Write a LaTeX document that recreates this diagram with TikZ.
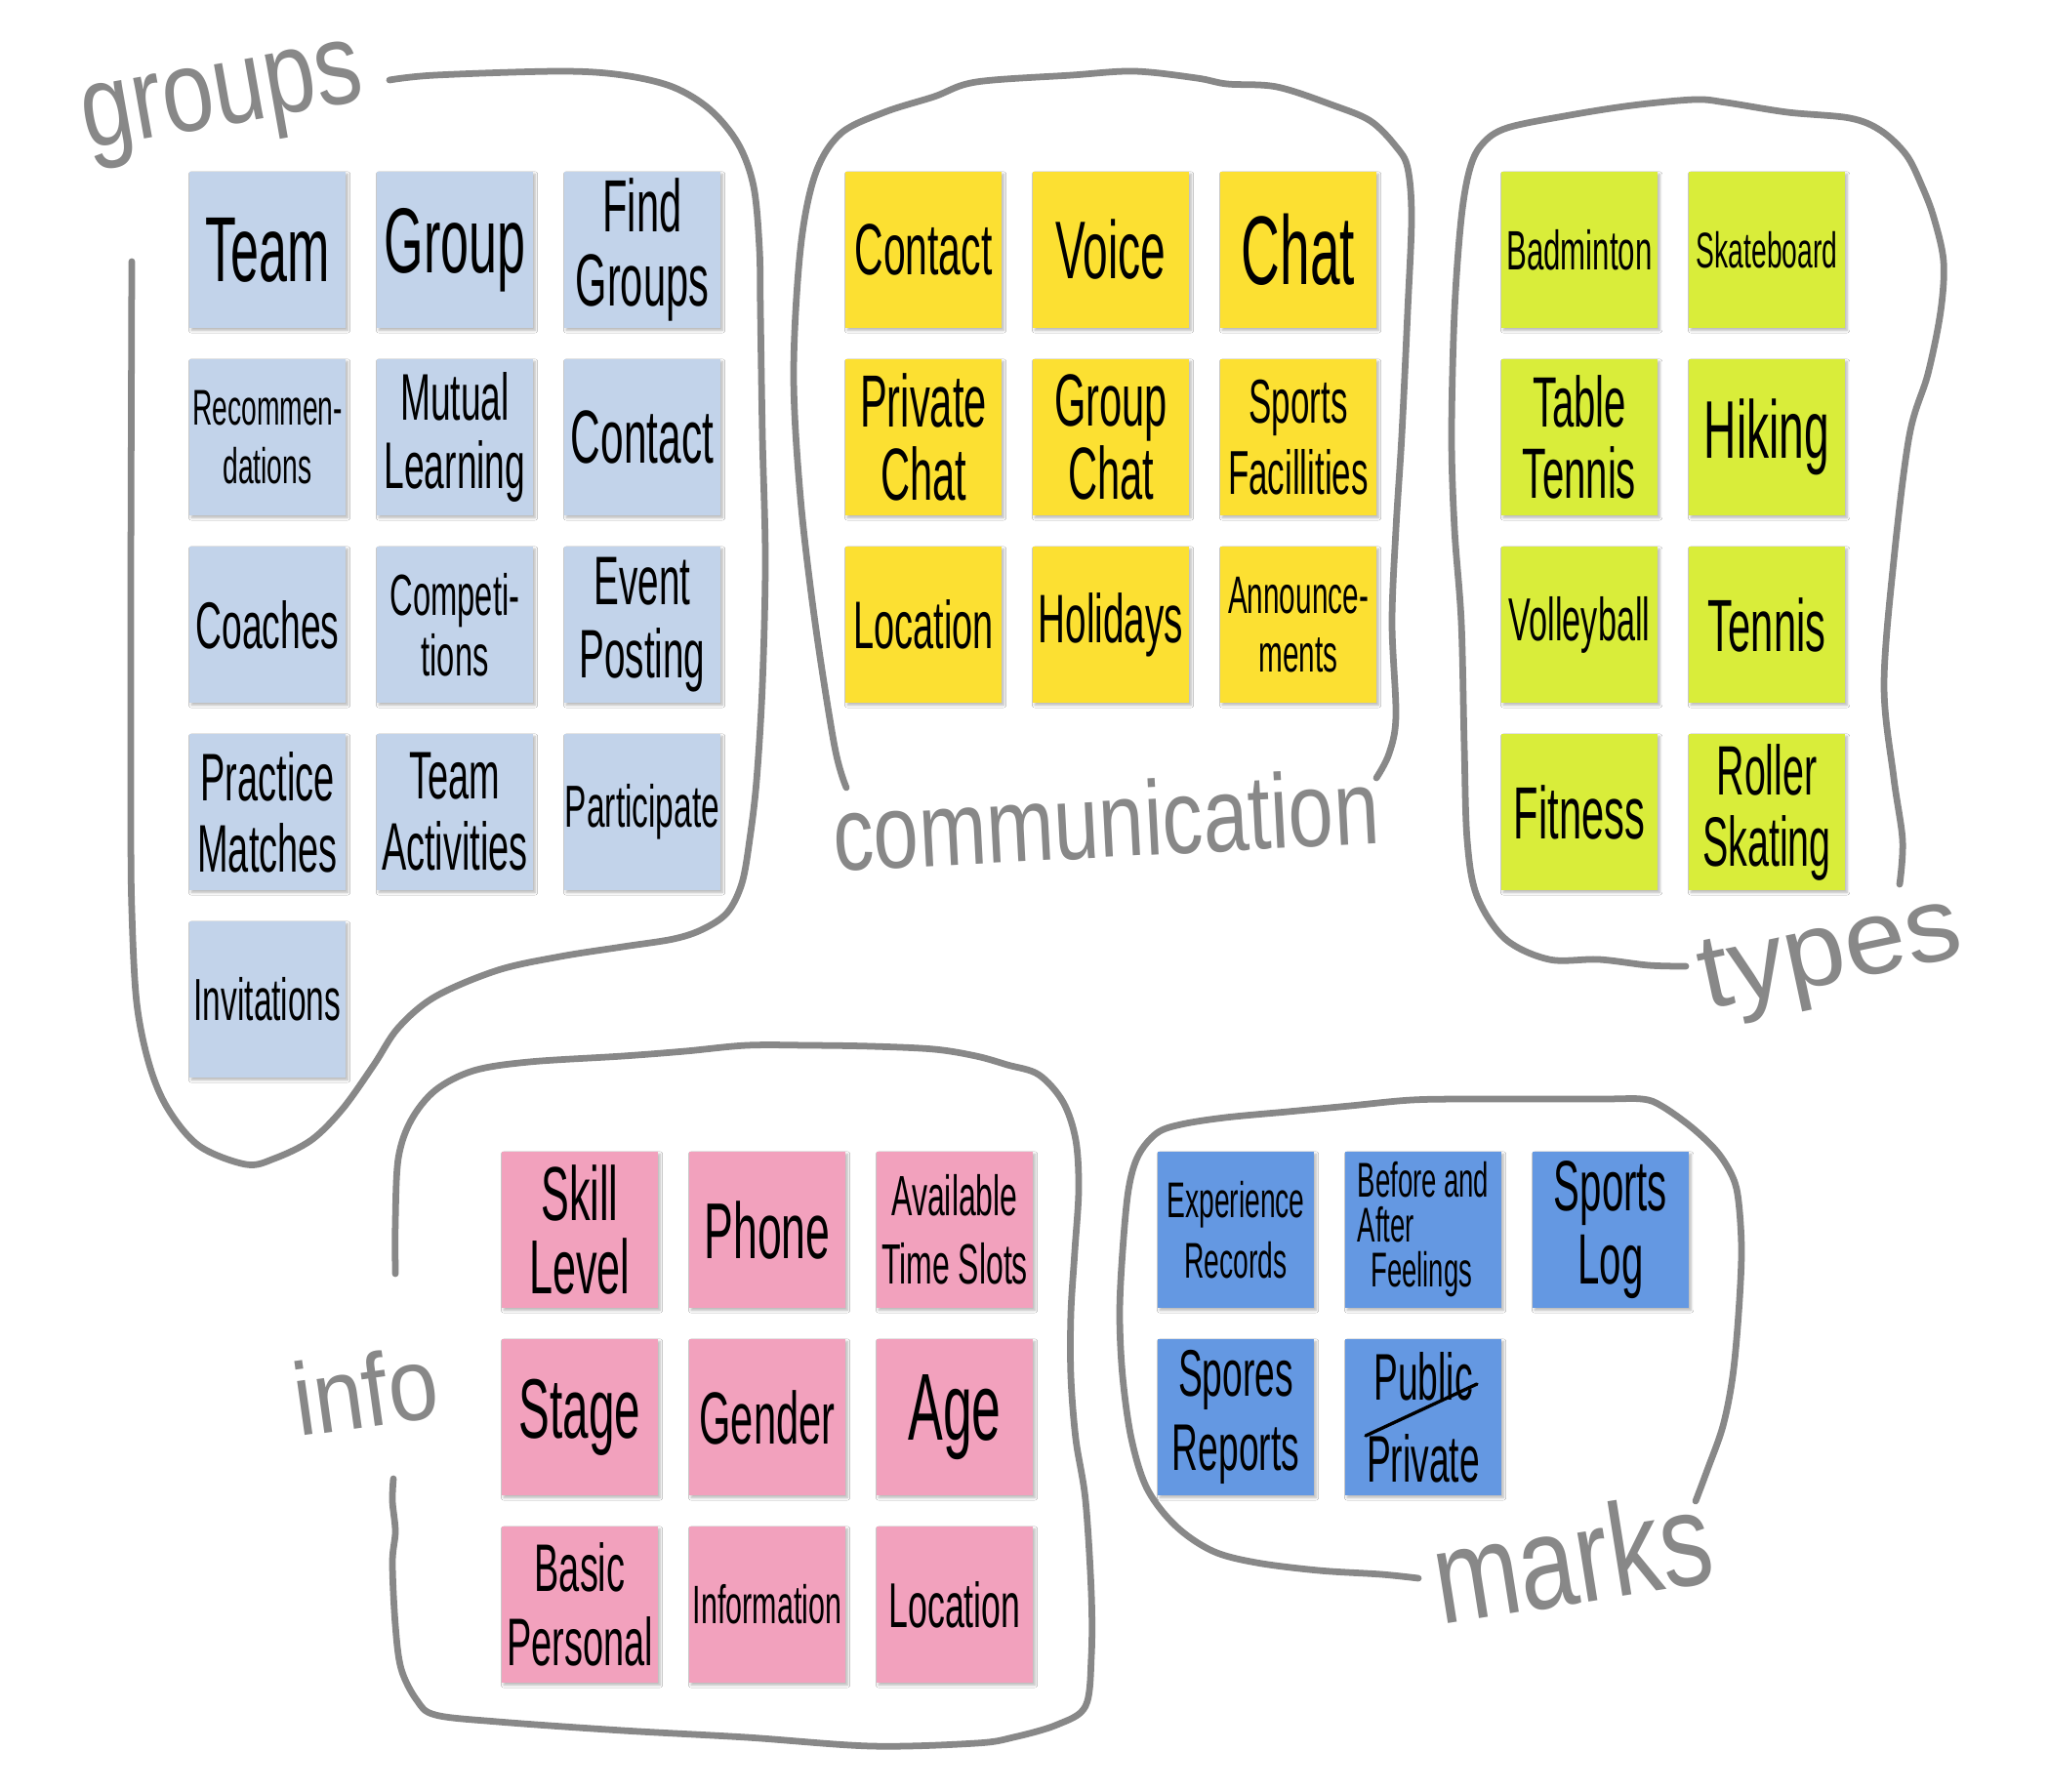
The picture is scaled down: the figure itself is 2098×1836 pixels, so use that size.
\documentclass[tikz,border=0pt]{standalone}
\usepackage{fontspec}
\setmainfont{Liberation Sans}[FakeStretch=0.55]
\newfontfamily\lblfont{Liberation Sans}
\usetikzlibrary{shadows.blur}
\definecolor{cgroup}{HTML}{C2D3EA}
\definecolor{ccomm}{HTML}{FCE032}
\definecolor{ctype}{HTML}{D9ED3A}
\definecolor{cinfo}{HTML}{F2A1BD}
\definecolor{cmark}{HTML}{6498E2}
\definecolor{lgray}{HTML}{888888}
\newcommand\myfs[2]{\fontsize{#1}{#2}\selectfont}
\begin{document}
\begin{tikzpicture}[x=0.7396pt,y=-0.7396pt,
  note/.style={minimum width=118.3pt,minimum height=118.3pt,inner sep=0pt,align=center,text=black,
    blur shadow={shadow xshift=1.5pt,shadow yshift=-1.8pt,shadow blur steps=6,shadow opacity=30,shadow blur radius=2pt}},
  gnote/.style={note,fill=cgroup},
  cnote/.style={note,fill=ccomm},
  tnote/.style={note,fill=ctype},
  inote/.style={note,fill=cinfo},
  mnote/.style={note,fill=cmark},
  outline/.style={draw=lgray,line width=5pt,line cap=round,line join=round},
  lbl/.style={text=lgray,inner sep=0pt}]
\useasboundingbox (0,0) rectangle (2098,1836);
\fill[white] (0,0) rectangle (2098,1836);

% ---------- outlines ----------
\draw[outline] plot[smooth,tension=0.55] coordinates {(399,82) (446,77) (574,73) (638,77) (689,89) (727,112) (756,147) (772,191) (778,255) (779,319) (781,446) (784,574) (781,702) (775,800) (768,860) (760,905) (745,935) (720,952) (690,962) (638,970) (574,980) (510,994) (446,1021) (408,1053) (383,1091) (351,1136) (319,1168) (281,1187) (252,1193) (204,1174) (172,1136) (153,1091) (140,1027) (135,932) (134,836) (134,600) (135,268)};
\draw[outline] plot[smooth,tension=0.55] coordinates {(867,807) (855,765) (835,638) (820,510) (813,383) (820,255) (835,179) (861,137) (906,115) (957,99) (1000,84) (1098,77) (1162,73) (1226,80) (1257,86) (1308,89) (1366,108) (1404,124) (1430,150) (1442,172) (1446,223) (1442,319) (1436,446) (1430,542) (1426,638) (1430,733) (1423,772) (1410,797)};
\draw[outline] plot[smooth,tension=0.55] coordinates {(1946,906) (1949,861) (1940,797) (1930,702) (1940,574) (1956,446) (1975,383) (1988,319) (1991,268) (1981,223) (1969,191) (1953,159) (1927,134) (1895,121) (1831,115) (1768,105) (1736,102) (1672,108) (1608,118) (1544,131) (1519,147) (1506,172) (1497,223) (1490,319) (1487,446) (1490,542) (1497,638) (1500,765) (1503,861) (1513,918) (1542,962) (1587,983) (1638,983) (1689,989) (1727,990)};
\draw[outline] plot[smooth,tension=0.55] coordinates {(405,1305) (405,1251) (408,1187) (421,1148) (446,1117) (485,1097) (542,1088) (638,1082) (702,1077) (765,1071) (829,1071) (893,1072) (957,1075) (1000,1082) (1032,1091) (1064,1101) (1089,1129) (1102,1168) (1105,1219) (1101,1282) (1097,1346) (1097,1410) (1102,1474) (1112,1537) (1118,1633) (1118,1697) (1112,1748) (1083,1767) (1038,1780) (1000,1786) (893,1789) (765,1780) (638,1773) (510,1764) (446,1757) (427,1742) (411,1710) (405,1665) (402,1601) (405,1569) (402,1538) (403,1515)};
\draw[outline] plot[smooth,tension=0.55] coordinates {(1737,1538) (1749,1506) (1765,1461) (1775,1410) (1781,1346) (1784,1282) (1781,1231) (1775,1206) (1759,1180) (1733,1155) (1702,1133) (1682,1126) (1638,1126) (1510,1126) (1446,1127) (1383,1133) (1319,1139) (1255,1145) (1210,1152) (1185,1161) (1166,1184) (1156,1219) (1150,1282) (1147,1346) (1150,1410) (1159,1474) (1175,1525) (1204,1563) (1242,1589) (1287,1601) (1351,1609) (1415,1613) (1453,1617)};

% ---------- labels ----------
\node[lbl,anchor=base west,rotate=10,xscale=0.8,font=\lblfont\myfs{88}{88}] (lgroups) at (89,153) {groups};
\node[lbl,anchor=base west,rotate=3,xscale=0.77,font=\lblfont\myfs{80}{80}] (lcomm) at (855,893) {communication};
\node[lbl,anchor=base west,rotate=12,xscale=1.05,font=\lblfont\myfs{80}{80}] (ltypes) at (1748,1035) {types};
\node[lbl,anchor=base west,rotate=8,xscale=0.87,font=\lblfont\myfs{78}{78}] (linfo) at (306,1472) {info};
\node[lbl,anchor=base west,rotate=9,xscale=0.78,font=\lblfont\myfs{100}{100}] (lmarks) at (1476,1665) {marks};

% ---------- groups ----------
\node[gnote,font=\myfs{70}{70}] (g1) at (274,256) {Team};
\node[gnote,font=\myfs{70}{70}] (g2) at (466,256) {Group};
\node[gnote,font=\myfs{56}{56}] (g3) at (658,256) {Find\\Groups};
\node[gnote,font=\myfs{38}{44}] (g4) at (274,448) {Recommen-\\dations};
\node[gnote,font=\myfs{50}{52}] (g5) at (466,448) {Mutual\\Learning};
\node[gnote,font=\myfs{57}{57}] (g6) at (658,448) {Contact};
\node[gnote,font=\myfs{50}{50}] (g7) at (274,640) {Coaches};
\node[gnote,font=\myfs{44}{46}] (g8) at (466,640) {Competi-\\tions};
\node[gnote,font=\myfs{52}{56}] (g9) at (658,640) {Event\\Posting};
\node[gnote,font=\myfs{51}{54}] (g10) at (274,832) {Practice\\Matches};
\node[gnote,font=\myfs{51}{54}] (g11) at (466,832) {Team\\Activities};
\node[gnote,font=\myfs{45}{45}] (g12) at (658,832) {Participate};
\node[gnote,font=\myfs{45}{45}] (g13) at (274,1024) {Invitations};

% ---------- communication ----------
\node[cnote,font=\myfs{55}{55}] (c1) at (946,256) {Contact};
\node[cnote,font=\myfs{62}{62}] (c2) at (1138,256) {Voice};
\node[cnote,font=\myfs{74}{74}] (c3) at (1330,256) {Chat};
\node[cnote,font=\myfs{56}{56}] (c4) at (946,448) {Private\\Chat};
\node[cnote,font=\myfs{56}{56}] (c5) at (1138,448) {Group\\Chat};
\node[cnote,font=\myfs{47}{54}] (c6) at (1330,448) {Sports\\Facillities};
\node[cnote,font=\myfs{51}{51}] (c7) at (946,640) {Location};
\node[cnote,font=\myfs{52}{52}] (c8) at (1138,640) {Holidays};
\node[cnote,font=\myfs{40}{44}] (c9) at (1330,640) {Announce-\\ments};

% ---------- types ----------
\node[tnote,font=\myfs{42}{42}] (t1) at (1618,256) {Badminton};
\node[tnote,font=\myfs{38}{38}] (t2) at (1810,256) {Skateboard};
\node[tnote,font=\myfs{54}{54}] (t3) at (1618,448) {Table\\Tennis};
\node[tnote,font=\myfs{62}{62}] (t4) at (1810,448) {Hiking};
\node[tnote,font=\myfs{46}{46}] (t5) at (1618,640) {Volleyball};
\node[tnote,font=\myfs{56}{56}] (t6) at (1810,640) {Tennis};
\node[tnote,font=\myfs{56}{56}] (t7) at (1618,832) {Fitness};
\node[tnote,font=\myfs{53}{54}] (t8) at (1810,832) {Roller\\Skating};

% ---------- info ----------
\node[inote,font=\myfs{58}{56}] (i1) at (594,1260) {Skill\\Level};
\node[inote,font=\myfs{60}{60}] (i2) at (786,1260) {Phone};
\node[inote,font=\myfs{43}{52}] (i3) at (978,1260) {Available\\Time Slots};
\node[inote,font=\myfs{64}{64}] (i4) at (594,1452) {Stage};
\node[inote,font=\myfs{56}{56}] (i5) at (786,1452) {Gender};
\node[inote,font=\myfs{72}{72}] (i6) at (978,1452) {Age};
\node[inote,font=\myfs{51}{56}] (i7) at (594,1644) {Basic\\Personal};
\node[inote,font=\myfs{41}{41}] (i8) at (786,1644) {Information};
\node[inote,font=\myfs{48}{48}] (i9) at (978,1644) {Location};

% ---------- marks ----------
\node[mnote,font=\myfs{38}{46}] (m1) at (1266,1260) {Experience\\Records};
\node[mnote,font=\myfs{37}{34},align=left] (m2) at (1458,1260) {Before and\\After\\\hspace*{10pt}Feelings};
\node[mnote,font=\myfs{54}{56}] (m3) at (1650,1260) {Sports\\Log};
\node[mnote,font=\myfs{50}{56}] (m4) at (1266,1452) {Spores\\Reports};
\node[mnote,font=\myfs{50}{62}] (m5) at (1458,1452) {Public\\Private};
\draw[black,line width=2.5pt,line cap=round] ([shift={(-59,19)}]m5.center) -- ([shift={(55,-34)}]m5.center);
\end{tikzpicture}
\end{document}
